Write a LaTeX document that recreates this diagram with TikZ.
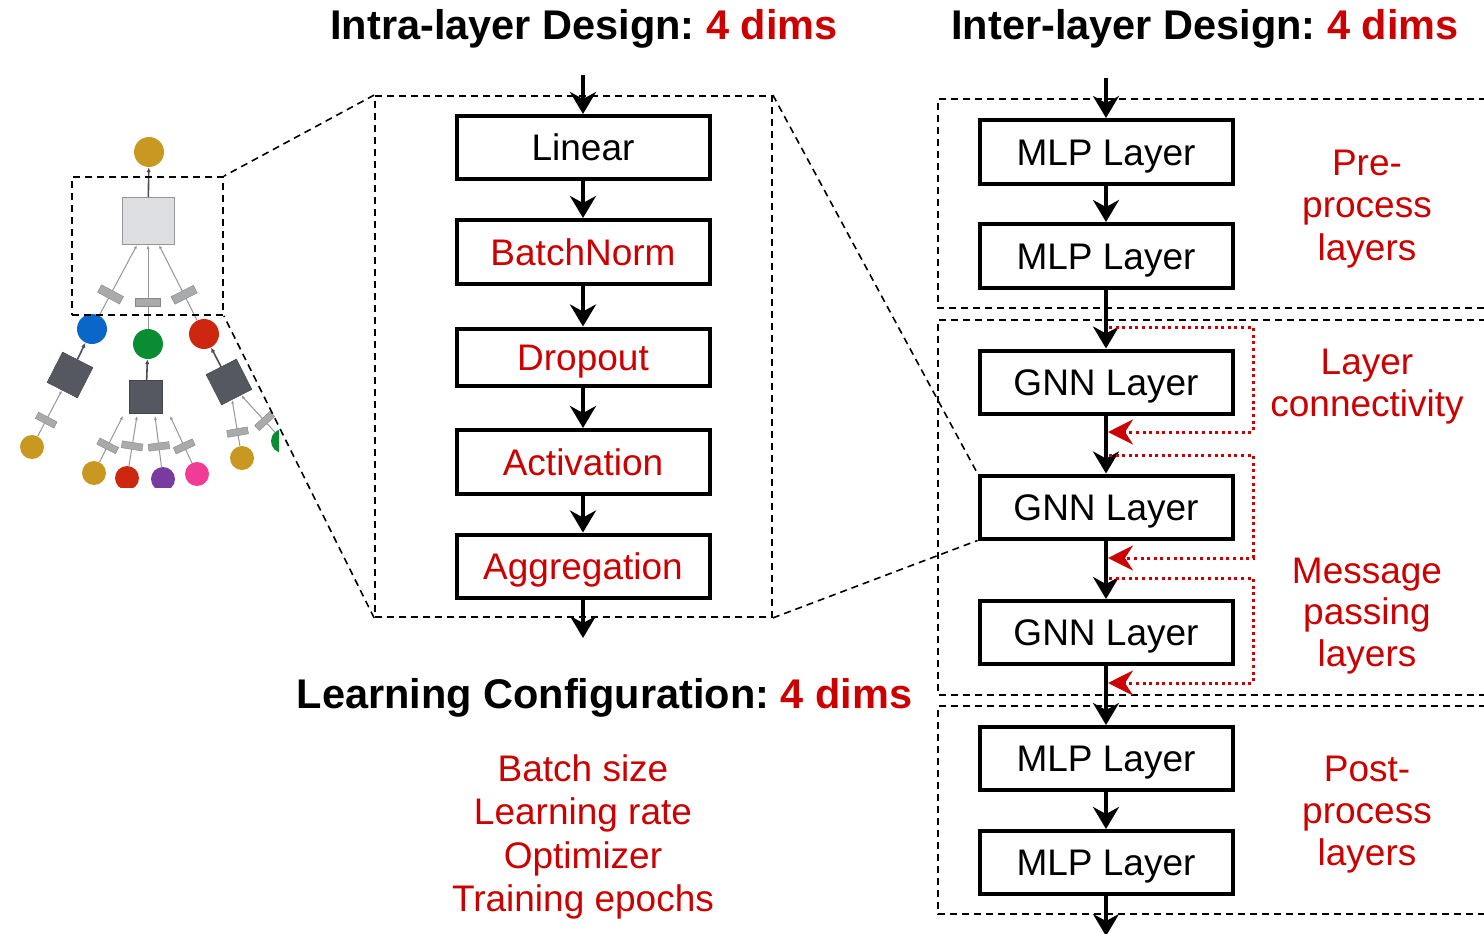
\documentclass[tikz,border=0pt]{standalone}
\usepackage{fontspec}
\setmainfont{Liberation Sans}
\usetikzlibrary{arrows.meta}
\frenchspacing
\definecolor{myred}{RGB}{204,0,0}
\definecolor{tgold}{RGB}{200,152,32}
\definecolor{tblue}{RGB}{10,102,200}
\definecolor{tgreen}{RGB}{10,140,50}
\definecolor{tred}{RGB}{205,40,15}
\definecolor{tpurple}{RGB}{120,60,160}
\definecolor{tpink}{RGB}{240,60,150}
\definecolor{tdark}{RGB}{85,88,96}
\definecolor{tlight}{RGB}{221,222,225}
\definecolor{tedge}{RGB}{150,150,152}
\definecolor{tbox}{RGB}{168,170,172}
\begin{document}
\begin{tikzpicture}[x=1pt,y=-1pt,
  lbox/.style={draw, line width=4pt, minimum width=253pt, minimum height=63pt, inner sep=0pt,
    text height=26.5pt, text depth=0pt, font=\fontsize{37}{44}\selectfont},
  flow/.style={line width=3.5pt, -{Stealth[length=22pt,width=26pt,inset=7pt]}},
  skip/.style={draw=myred, line width=3pt, dash pattern=on 3pt off 3.6pt,
    -{Stealth[length=25pt,width=25pt,inset=8pt,sep=0pt]}},
  zone/.style={draw, line width=1.8pt, dash pattern=on 7pt off 5pt},
  zoomline/.style={line width=1.6pt, dash pattern=on 7pt off 5pt},
  title/.style={anchor=base, inner sep=0pt, font=\fontsize{41.5}{48}\selectfont\bfseries},
  lab/.style={anchor=base, inner sep=0pt, text=myred, font=\fontsize{37}{44}\selectfont},
  circ/.style={circle, inner sep=0pt, minimum size=30pt},
  leaf/.style={circle, inner sep=0pt, minimum size=24pt},
  dsq/.style={rectangle, fill=tdark, draw=tdark!80!black, line width=0.5pt, minimum size=34pt, inner sep=0pt},
  lsq/.style={rectangle, fill=tlight, draw=tedge, line width=1pt, minimum width=52pt, minimum height=47pt, inner sep=0pt},
  ebox/.style={rectangle, fill=tbox, draw=tbox!80!black, line width=0.4pt, minimum width=8.5pt, minimum height=25pt, inner sep=0pt},
  sebox/.style={ebox, minimum width=7pt, minimum height=21pt},
  darkedge/.style={draw=tdark!90!black, line width=1.6pt, -{Latex[length=5pt,width=4.5pt]}},
  lightedge/.style={draw=tedge, line width=1pt, -{Latex[length=4pt,width=3pt]}},
  framebox/.style={rectangle, draw, line width=1.8pt, dash pattern=on 7pt off 5pt, inner sep=0pt}
]
\useasboundingbox (0,0) rectangle (1484,934);

% ---------- titles ----------
\node[title] (ttl1) at (584,40) {Intra-layer Design: \textcolor{myred}{4 dims}};
\node[title] (ttl2) at (1205,40) {Inter-layer Design: \textcolor{myred}{4 dims}};
\node[title] (ttl3) at (604.5,708) {Learning Configuration: \textcolor{myred}{4 dims}};

% ---------- left tree ----------
\begin{scope}
\clip (0,100) rectangle (279,487);
\node[circ, fill=tgold] (t) at (149,152) {};
\node[lsq] (s) at (148,221) {};
\node[circ, fill=tblue] (b) at (92,329) {};
\node[circ, fill=tgreen] (g) at (148,344) {};
\node[circ, fill=tred] (r) at (204,334) {};
\node[dsq, rotate=-27] (d1) at (70,375) {};
\node[dsq, minimum size=33pt] (d2) at (146,397) {};
\node[dsq, rotate=27] (d3) at (229,382) {};
\node[leaf, fill=tgold] (l1) at (32,447) {};
\node[leaf, fill=tgold] (l2) at (94,473) {};
\node[leaf, fill=tred] (l3) at (127,478) {};
\node[leaf, fill=tpurple] (l4) at (163,479) {};
\node[leaf, fill=tpink] (l5) at (197,474) {};
\node[leaf, fill=tgold] (l6) at (242,458) {};
\node[leaf, fill=tgreen] (l7) at (283,441) {};
\draw[darkedge] (s) -- (t);
\draw[lightedge] (b) -- node[ebox, sloped, pos=0.3] {} ([xshift=-11pt]s.south);
\draw[lightedge] (g) -- node[ebox, sloped, pos=0.32] {} (s.south);
\draw[lightedge] (r) -- node[ebox, sloped, pos=0.34] {} ([xshift=11pt]s.south);
\draw[darkedge] (d1) -- (b);
\draw[darkedge] (d2) -- (g);
\draw[darkedge] (d3) -- (r);
\draw[lightedge] (l1) -- node[sebox, sloped, pos=0.35] {} (d1);
\draw[lightedge] (l2) -- node[sebox, sloped, pos=0.35] {} ([xshift=-23pt, yshift=-2pt]d2.south);
\draw[lightedge] (l3) -- node[sebox, sloped, pos=0.4] {} ([xshift=-9pt, yshift=-2pt]d2.south);
\draw[lightedge] (l4) -- node[sebox, sloped, pos=0.4] {} ([xshift=9pt, yshift=-2pt]d2.south);
\draw[lightedge] (l5) -- node[sebox, sloped, pos=0.35] {} ([xshift=24pt, yshift=-2pt]d2.south);
\draw[lightedge] (l6) -- node[sebox, sloped, pos=0.3] {} (d3);
\draw[lightedge] (l7) -- node[sebox, sloped, pos=0.3] {} (d3);
\end{scope}
\node[framebox, minimum width=151pt, minimum height=138pt] (sel) at (147.5,246) {};

% ---------- intra-layer ----------
\node[framebox, minimum width=397pt, minimum height=521pt] (intra) at (573.5,356.5) {};
\node[lbox] (lin) at (583,147.5) {Linear};
\node[lbox, text=myred, minimum height=64pt] (bn) at (583,252) {BatchNorm};
\node[lbox, text=myred, minimum height=57pt] (dp) at (583,357) {Dropout};
\node[lbox, text=myred, minimum height=64pt] (act) at (583,462) {Activation};
\node[lbox, text=myred] (agg) at (583,566) {Aggregation};
\coordinate (intop) at (583,75);
\coordinate (inbot) at (583,638);
\draw[flow] (intop) -- (lin);
\draw[flow] (lin) -- (bn);
\draw[flow] (bn) -- (dp);
\draw[flow] (dp) -- (act);
\draw[flow] (act) -- (agg);
\draw[flow] (agg) -- (inbot);

% ---------- learning configuration ----------
\node[lab] (lc1) at (583,781) {Batch size};
\node[lab] (lc2) at (583,824.5) {Learning rate};
\node[lab] (lc3) at (583,868) {Optimizer};
\node[lab] (lc4) at (583,911.5) {Training epochs};

% ---------- inter-layer zones ----------
\draw[zone] (1486,99) -- (938,99) -- (938,308) -- (1486,308);
\draw[zone] (1486,320) -- (938,320) -- (938,695) -- (1486,695);
\draw[zone] (1486,706) -- (938,706) -- (938,914) -- (1486,914);

% ---------- inter-layer boxes ----------
\node[lbox, minimum height=64pt] (m1) at (1106,152) {MLP Layer};
\node[lbox, minimum height=64pt] (m2) at (1106,256) {MLP Layer};
\node[lbox] (g1) at (1106,382) {GNN Layer};
\node[lbox] (g2) at (1106,507) {GNN Layer};
\node[lbox] (g3) at (1106,632.5) {GNN Layer};
\node[lbox] (m3) at (1106,758.5) {MLP Layer};
\node[lbox] (m4) at (1106,862.5) {MLP Layer};
\coordinate (rtop) at (1106,78);
\coordinate (rbot) at (1106,936);
\draw[flow] (rtop) -- (m1);
\draw[flow] (m1) -- (m2);
\draw[flow] (m2) -- (g1);
\draw[flow] (g1) -- (g2);
\draw[flow] (g2) -- (g3);
\draw[flow] (g3) -- (m3);
\draw[flow] (m3) -- (m4);
\draw[flow] (m4) -- (rbot);

% ---------- skip connections ----------
\coordinate (s1) at (1109,327);
\coordinate (e1) at (1108,432);
\coordinate (s2) at (1109,455);
\coordinate (e2) at (1108,558);
\coordinate (s3) at (1109,578);
\coordinate (e3) at (1108,683);
\draw[skip] (s1) -- (1253,327) -- (1253,432) -- (e1);
\draw[skip] (s2) -- (1253,455) -- (1253,558) -- (e2);
\draw[skip] (s3) -- (1253,578) -- (1253,683) -- (e3);

% ---------- zoom lines ----------
\draw[zoomline] (intra.north west) -- (sel.north east);
\draw[zoomline] (intra.south west) -- (sel.south east);
\draw[zoomline] (intra.north east) -- (g2.north west);
\draw[zoomline] (intra.south east) -- (g2.south west);

% ---------- right labels ----------
\node[lab] (p1) at (1367,175) {Pre-};
\node[lab] (p2) at (1367,217.5) {process};
\node[lab] (p3) at (1367,260) {layers};
\node[lab] (c1) at (1367,374) {Layer};
\node[lab] (c2) at (1367,416) {connectivity};
\node[lab] (mp1) at (1367,583) {Message};
\node[lab] (mp2) at (1367,624.5) {passing};
\node[lab] (mp3) at (1367,666) {layers};
\node[lab] (q1) at (1367,781) {Post-};
\node[lab] (q2) at (1367,823) {process};
\node[lab] (q3) at (1367,865) {layers};
\end{tikzpicture}
\end{document}
